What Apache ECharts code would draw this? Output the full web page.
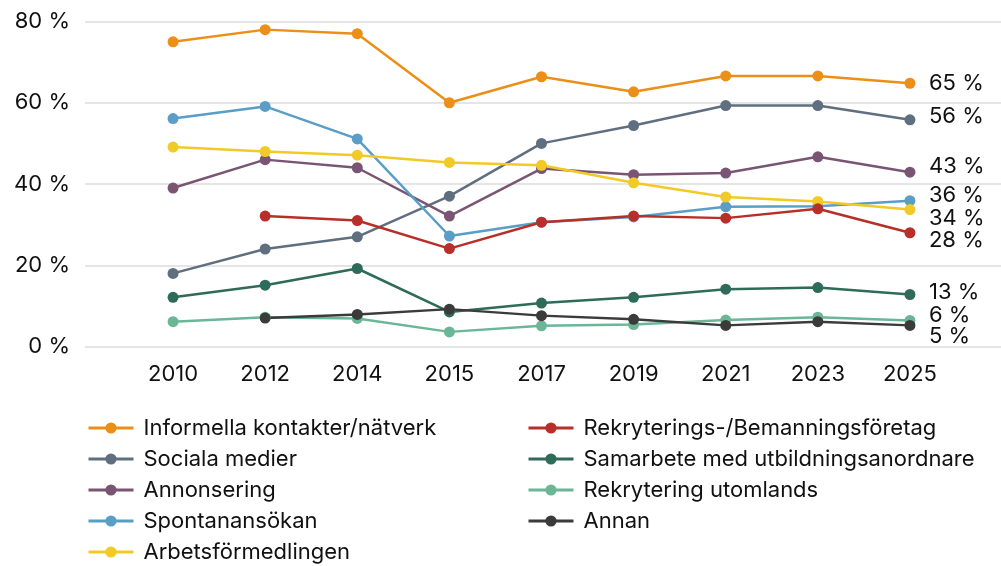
<!DOCTYPE html>
<html><head><meta charset="utf-8">
<script src="https://cdn.jsdelivr.net/npm/echarts@6/dist/echarts.min.js"></script>
<style>html,body{margin:0;padding:0;background:#fff}#c{width:1001px;height:566px}</style>
</head><body><div id="c"></div>
<script>
const years = ['2010','2012','2014','2015','2017','2019','2021','2023','2025'];
const yTicks = [0, 20, 40, 60, 80];
const informella = [75, 78, 77, 60, 66.4, 62.7, 66.6, 66.6, 64.8];
const sociala = [18, 24, 27, 37, 50, 54.4, 59.3, 59.3, 55.8];
const annonsering = [39, 46, 44, 32.1, 43.8, 42.3, 42.7, 46.7, 42.9];
const spontan = [56.1, 59.1, 51.1, 27.2, 30.6, 31.9, 34.4, 34.5, 35.9];
const arbetsf = [49.1, 48, 47.1, 45.3, 44.6, 40.3, 36.8, 35.7, 33.7];
const rekryteringsf = [null, 32.1, 31, 24.1, 30.6, 32.1, 31.6, 33.9, 28];
const samarbete = [12.1, 15.1, 19.2, 8.5, 10.7, 12.1, 14.1, 14.5, 12.8];
const utomlands = [6.1, 7.2, 6.9, 3.6, 5.1, 5.4, 6.5, 7.2, 6.4];
const annan = [null, 7, 7.9, 9.2, 7.6, 6.7, 5.2, 6.1, 5.2];

const names = ['Informella kontakter/nätverk','Sociala medier','Annonsering','Spontanansökan','Arbetsförmedlingen',
  'Rekryterings-/Bemanningsföretag','Samarbete med utbildningsanordnare','Rekrytering utomlands','Annan'];
const values = [informella, sociala, annonsering, spontan, arbetsf, rekryteringsf, samarbete, utomlands, annan];
const colors = ['#EC8F18','#5F6F7F','#7A5573','#5A9DC7','#F2CA26','#B72F28','#2F6B59','#6BB697','#3B3B3B'];
const labelDy = [0, -3, -6, -5, 9, 8, -2, -5, 11];

const FONT = 'Inter';
const FS = 22;
const chart = echarts.init(document.getElementById('c'));
const series = values.map((d, i) => ({
  name: names[i], type: 'line', data: d, xAxisIndex: 1, yAxisIndex: 1,
  color: colors[i], symbol: 'circle', symbolSize: 11, connectNulls: false,
  lineStyle: { width: 2.5, color: colors[i] }, itemStyle: { color: colors[i] },
  endLabel: { show: true, formatter: p => Math.round(p.value) + ' %', color: '#111',
    fontFamily: FONT, fontSize: FS, distance: 19, offset: [0, labelDy[i]] },
  emphasis: { disabled: true }, animation: false
}));
const legendText = { fontSize: FS, fontFamily: FONT, color: '#111', lineHeight: 22, padding: [0, 0, 0, 5] };
const legendBase = { orient: 'vertical', top: 417, padding: 0, itemWidth: 45, itemHeight: 14, itemGap: 9,
  lineStyle: { width: 3 }, textStyle: legendText };
chart.setOption({
  animation: false,
  textStyle: { fontFamily: FONT },
  grid: [
    { left: 85, right: 0, top: 21.5, bottom: 219.5 },
    { left: 127, right: 45, top: 21.5, bottom: 219.5 }
  ],
  xAxis: [
    { type: 'value', gridIndex: 0, show: false, min: 0, max: 1 },
    { type: 'category', gridIndex: 1, data: years, boundaryGap: true,
      axisLine: { show: false }, axisTick: { show: false },
      axisLabel: { color: '#111', fontSize: FS, fontFamily: FONT, margin: 17 } }
  ],
  yAxis: [
    { type: 'value', gridIndex: 0, min: 0, max: 80, interval: 20,
      axisLine: { show: false }, axisTick: { show: false },
      splitLine: { lineStyle: { color: '#dcdcdc', width: 1.5 } },
      axisLabel: { color: '#111', fontSize: FS, fontFamily: FONT, margin: 15,
        formatter: v => yTicks.includes(v) ? v + ' %' : '' } },
    { type: 'value', gridIndex: 1, min: 0, max: 80, interval: 20, show: false, splitLine: { show: false } }
  ],
  legend: [
    Object.assign({ data: names.slice(0, 5), left: 87 }, legendBase),
    Object.assign({ data: names.slice(5), left: 527 }, legendBase)
  ],
  series
});
</script></body></html>
